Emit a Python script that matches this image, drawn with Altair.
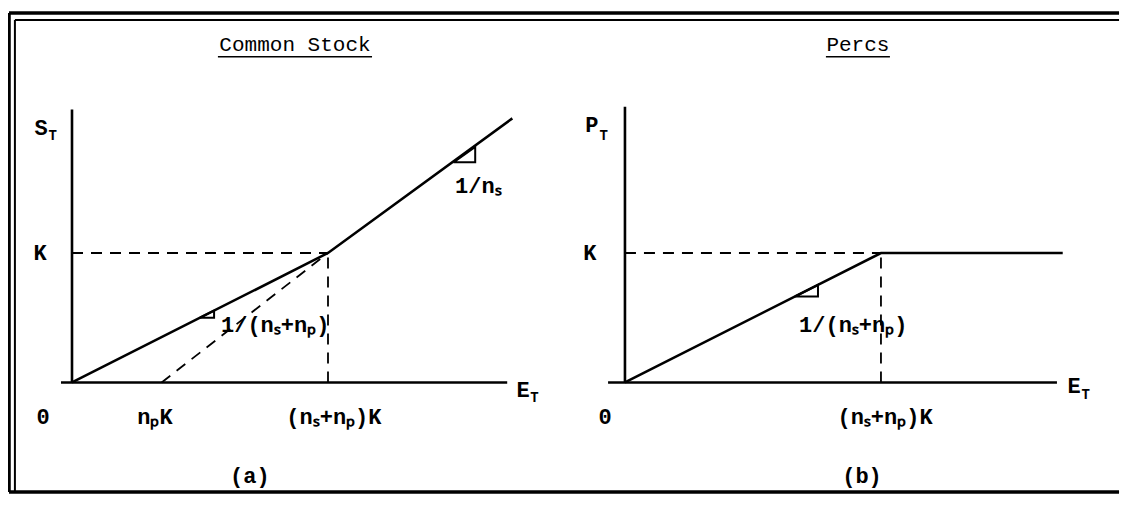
import altair as alt
import pandas as pd

# ---------------- data (x in units of (n_s+n_p)K, y in units of K) ----------------
R = 2.16  # horizontal offset of the right panel ("Percs")

# Common Stock payoff S_T vs E_T (solid)
stock_x = [0.0, 1.0, 1.72]
stock_y = [0.0, 1.0, 2.04]
# dashed line starting at n_pK
conv_x = [0.35, 1.0]
conv_y = [0.0, 1.0]
# Percs payoff P_T vs E_T (solid), in panel coordinates
percs_x = [0.0, 1.0, 1.71]
percs_y = [0.0, 1.0, 1.0]

# slope triangles (closed polygons)
tri1_x = [1.49, 1.575, 1.575, 1.49]
tri1_y = [1.70, 1.82, 1.70, 1.70]
tri2_x = [0.50, 0.555, 0.555, 0.50]
tri2_y = [0.50, 0.555, 0.50, 0.50]
tri3_x = [0.664, 0.754, 0.754, 0.664]
tri3_y = [0.664, 0.754, 0.664, 0.664]

# axes  (x, y, x2, y2)
axes = [
    (-0.043, 0.0, 1.70, 0.0),
    (0.0, 0.0, 0.0, 2.108),
    (R - 0.066, 0.0, R + 1.6875, 0.0),
    (R, 0.0, R, 2.13),
]
# dashed guides
guides = [
    (0.0, 1.0, 1.0, 1.0),
    (1.0, 0.0, 1.0, 1.0),
    (R, 1.0, R + 1.0, 1.0),
    (R + 1.0, 0.0, R + 1.0, 1.0),
]
# title underlines
underlines = [
    (0.570, 2.515, 1.172, 2.515),
    (R + 0.785, 2.515, R + 1.035, 2.515),
]
# outer frame (thick and thin parts of the double line)
frame_thick = [
    (-0.246, -0.846, -0.246, 2.854),
    (-0.246, 2.854, 4.09, 2.854),
    (-0.246, -0.846, 4.09, -0.846),
]
frame_thin = [
    (-0.223, -0.846, -0.223, 2.80),
    (-0.223, 2.80, 4.09, 2.80),
]

# centred labels
c_text = ["S", "K", "0", "nₚK", "(nₛ+nₚ)K", "E", "(a)",
          "P", "K", "0", "(nₛ+nₚ)K", "E", "(b)"]
c_x = [-0.121, -0.125, -0.113, 0.324, 1.023, 1.762, 0.695,
       R - 0.129, R - 0.137, R - 0.078, R + 1.016, R + 1.754, R + 0.926]
c_y = [1.969, 1.0, -0.27, -0.27, -0.27, -0.06, -0.725,
       1.985, 1.0, -0.27, -0.27, -0.03, -0.725]
# panel titles
t_text = ["Common Stock", "Percs"]
t_x = [0.871, R + 0.91]
t_y = [2.608, 2.608]
# subscripts T
s_text = ["T", "T", "T", "T"]
s_x = [-0.075, 1.806, R - 0.083, R + 1.800]
s_y = [1.90, -0.123, 1.905, -0.10]
# slope labels (left aligned)
l_text = ["1/nₛ", "1/(nₛ+nₚ)", "1/(nₛ+nₚ)"]
l_x = [1.496, 0.582, R + 0.68]
l_y = [1.515, 0.446, 0.446]

# ---------------- chart ----------------
XDOM = [-0.25, 4.09375]
YDOM = [-0.8615, 2.8923]
FONT = "Liberation Mono"

xs = alt.Scale(domain=XDOM, nice=False, zero=False)
ys = alt.Scale(domain=YDOM, nice=False, zero=False)


def poly(name, xv, yv, dx=0.0):
    return pd.DataFrame({"x": [v + dx for v in xv], "y": yv, "g": name,
                         "o": range(len(xv))})


def segs(rows):
    return pd.DataFrame(rows, columns=["x", "y", "x2", "y2"])


def rule_layer(rows, width, dash=None):
    kw = dict(color="black", strokeWidth=width, strokeCap="butt")
    if dash:
        kw["strokeDash"] = dash
    return alt.Chart(segs(rows)).mark_rule(**kw).encode(
        x=alt.X("x:Q", scale=xs, axis=None),
        y=alt.Y("y:Q", scale=ys, axis=None),
        x2="x2:Q",
        y2="y2:Q",
    )


def line_layer(df, width, dash=None):
    kw = dict(color="black", strokeWidth=width, strokeCap="butt", strokeJoin="miter")
    if dash:
        kw["strokeDash"] = dash
    return alt.Chart(df).mark_line(**kw).encode(
        x=alt.X("x:Q", scale=xs, axis=None),
        y=alt.Y("y:Q", scale=ys, axis=None),
        detail="g:N",
        order="o:Q",
    )


def text_layer(tv, xv, yv, size, align, weight="bold"):
    df = pd.DataFrame({"t": tv, "x": xv, "y": yv})
    return alt.Chart(df).mark_text(
        font=FONT, fontSize=size, fontWeight=weight, align=align,
        baseline="middle", color="black"
    ).encode(
        x=alt.X("x:Q", scale=xs, axis=None),
        y=alt.Y("y:Q", scale=ys, axis=None),
        text="t:N",
    )


solid = pd.concat([poly("stock", stock_x, stock_y),
                   poly("percs", percs_x, percs_y, R)])
tris = pd.concat([poly("t1", tri1_x, tri1_y), poly("t2", tri2_x, tri2_y),
                  poly("t3", tri3_x, tri3_y, R)])
dashed = poly("conv", conv_x, conv_y)

chart = alt.layer(
    rule_layer(frame_thick, 3.5),
    rule_layer(frame_thin, 2),
    rule_layer(axes, 2.6),
    rule_layer(guides, 1.8, [11, 8]),
    rule_layer(underlines, 1.5),
    line_layer(solid, 2.6),
    line_layer(dashed, 1.8, [11, 8]),
    line_layer(tris, 2),
    text_layer(c_text, c_x, c_y, 22, "center"),
    text_layer(t_text, t_x, t_y, 21, "center", "normal"),
    text_layer(s_text, s_x, s_y, 14, "center"),
    text_layer(l_text, l_x, l_y, 22, "left"),
).properties(
    width=1112, height=486, padding=0, background="white"
).configure_view(stroke=None).properties(
    autosize=alt.AutoSizeParams(type="none")
)

chart.save("out.html", embed_options={"renderer": "svg", "actions": False})
